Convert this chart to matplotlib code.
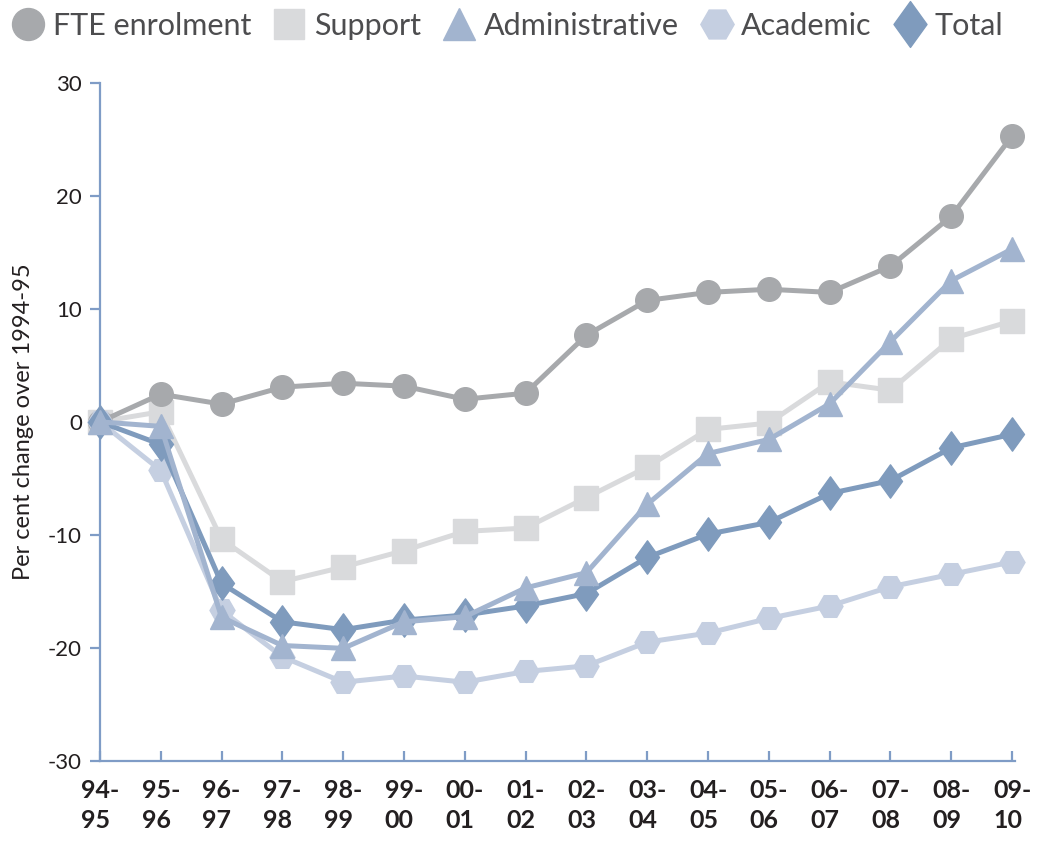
import matplotlib
matplotlib.use("Agg")
import matplotlib.pyplot as plt
from matplotlib.path import Path
from matplotlib.lines import Line2D

plt.rcParams['font.family'] = ['Lato', 'DejaVu Sans']
plt.rcParams['axes.unicode_minus'] = False

years = ["94-\n95", "95-\n96", "96-\n97", "97-\n98", "98-\n99", "99-\n00", "00-\n01",
         "01-\n02", "02-\n03", "03-\n04", "04-\n05", "05-\n06", "06-\n07", "07-\n08",
         "08-\n09", "09-\n10"]

fte = [0, 2.45, 1.57, 3.07, 3.42, 3.16, 2.0, 2.54, 7.67, 10.75, 11.46, 11.74, 11.46, 13.78, 18.2, 25.3]
support = [0, 0.9, -10.4, -14.15, -12.85, -11.4, -9.7, -9.4, -6.7, -4.0, -0.67, -0.1, 3.54, 2.8, 7.35, 8.94]
administrative = [0, -0.4, -17.3, -19.8, -20.05, -17.7, -17.25, -14.7, -13.35, -7.3, -2.8, -1.56, 1.6, 7.1, 12.5, 15.3]
academic = [0, -4.3, -16.7, -20.8, -23.05, -22.5, -23.05, -22.1, -21.6, -19.5, -18.7, -17.4, -16.3, -14.6, -13.5, -12.4]
total = [0, -2.0, -14.3, -17.7, -18.4, -17.55, -17.1, -16.3, -15.2, -12.0, -9.94, -8.9, -6.34, -5.2, -2.3, -1.1]

c_fte = '#a7a9ac'
c_sup = '#d9dadc'
c_adm = '#a2b4cf'
c_aca = '#c5cfe1'
c_tot = '#7f9bbd'
c_axis = '#7f9cc6'

diamond = Path([(0, 1), (0.72, 0), (0, -1), (-0.72, 0), (0, 1)],
               [Path.MOVETO, Path.LINETO, Path.LINETO, Path.LINETO, Path.CLOSEPOLY])

fig = plt.figure(figsize=(10.39, 8.46), dpi=100)
ax = fig.add_axes([0.0962, 0.1008, 0.977 - 0.0962, 0.9019 - 0.1008])

x = list(range(len(years)))
lw = 3.6
ax.plot(x, support, color=c_sup, lw=lw, marker='s', ms=17, zorder=1, clip_on=False)
ax.plot(x, fte, color=c_fte, lw=lw, marker='o', ms=17, zorder=2, clip_on=False)
ax.plot(x, academic, color=c_aca, lw=lw, marker='H', ms=18, zorder=3, clip_on=False)
ax.plot(x, total, color=c_tot, lw=lw, marker=diamond, ms=24, zorder=4, clip_on=False)
ax.plot(x, administrative, color=c_adm, lw=lw, marker='^', ms=17, zorder=5, clip_on=False)

ax.set_xlim(0, 15.05)
ax.set_ylim(-30, 30)
for s in ['top', 'right']:
    ax.spines[s].set_visible(False)
for s in ['left', 'bottom']:
    ax.spines[s].set_color(c_axis)
    ax.spines[s].set_linewidth(1.6)

ax.set_yticks([-30, -20, -10, 0, 10, 20, 30])
ax.tick_params(axis='y', direction='out', length=7, width=1.6, color=c_axis,
               labelsize=16, labelcolor='#231f20', pad=6)
ax.set_xticks(x)
ax.set_xticklabels(years, fontweight='bold', multialignment='left', linespacing=1.4)
ax.tick_params(axis='x', direction='in', length=7, width=1.6, color=c_axis,
               labelsize=18, labelcolor='#231f20', pad=13)
ax.set_ylabel('Per cent change over 1994-95', fontsize=17, color='#231f20', labelpad=10)

handles = [
    Line2D([], [], ls='none', marker='o', ms=23, color=c_fte),
    Line2D([], [], ls='none', marker='s', ms=22, color=c_sup),
    Line2D([], [], ls='none', marker='^', ms=23, color=c_adm),
    Line2D([], [], ls='none', marker='H', ms=24, color=c_aca),
    Line2D([], [], ls='none', marker=diamond, ms=33, color=c_tot),
]
labels = ['FTE enrolment', 'Support', 'Administrative', 'Academic', 'Total']
leg = fig.legend(handles, labels, loc='upper left', bbox_to_anchor=(-0.005, 1.008), ncol=5,
                 frameon=False, fontsize=22, handlelength=1.0, handletextpad=0.3,
                 columnspacing=0.75, labelcolor='#4d4d4f', borderaxespad=0.2)

fig.savefig('out.png', dpi=100)
